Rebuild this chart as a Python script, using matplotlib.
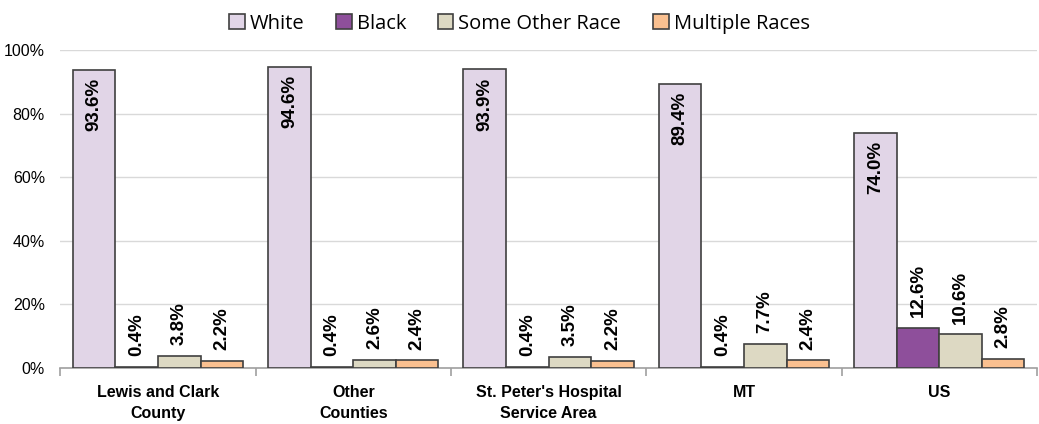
import numpy as np
import matplotlib
matplotlib.use("Agg")
import matplotlib.pyplot as plt
from matplotlib.ticker import PercentFormatter, FixedLocator

categories = ["Lewis and Clark\nCounty", "Other\nCounties", "St. Peter's Hospital\nService Area", "MT", "US"]
series = ["White", "Black", "Some Other Race", "Multiple Races"]
white = [93.6, 94.6, 93.9, 89.4, 74.0]
black = [0.4, 0.4, 0.4, 0.4, 12.6]
other = [3.8, 2.6, 3.5, 7.7, 10.6]
multiple = [2.2, 2.4, 2.2, 2.4, 2.8]
colors = ["#E1D5E7", "#8E4F9B", "#DDD9C3", "#FAC090"]

narrow = ["Liberation Sans Narrow", "DejaVu Sans Condensed", "Liberation Sans"]

fig = plt.figure(figsize=(10.39, 4.24), dpi=100)
ax = fig.add_axes([0.058, 0.132, 0.94, 0.75])

x = np.arange(len(categories))
w = 0.218
values = [white, black, other, multiple]
for i, (name, vals, c) in enumerate(zip(series, values, colors)):
    pos = x - 1.5 * w + i * w
    ax.bar(pos, vals, w, color=c, edgecolor="#404040", linewidth=1.2, label=name, zorder=3)
    for p, v in zip(pos, vals):
        txt = "%.1f%%" % v
        if i == 0:
            ax.text(p, v - 2.5, txt, rotation=90, ha="center", va="top", fontsize=13.5,
                    fontweight="bold", family=narrow, zorder=4)
        else:
            ax.text(p, v + 3.4, txt, rotation=90, ha="center", va="bottom", fontsize=13.5,
                    fontweight="bold", family=narrow, zorder=4)

ax.set_xlim(-0.5, len(categories) - 0.5)
ax.set_ylim(0, 100)
ax.set_yticks([0, 20, 40, 60, 80, 100])
ax.yaxis.set_major_formatter(PercentFormatter(decimals=0))
ax.grid(axis="y", color="#D9D9D9", linewidth=1, zorder=0)
for s in ["top", "right", "left"]:
    ax.spines[s].set_visible(False)
ax.spines["bottom"].set_color("#A0A0A0")
ax.spines["bottom"].set_linewidth(1.2)
ax.tick_params(axis="y", length=0, labelsize=11.5, pad=11)
for lbl in ax.get_yticklabels():
    lbl.set_family(narrow)

ax.set_xticks(x)
ax.set_xticklabels(categories, fontsize=11.5, fontweight="bold", family=narrow)
for lbl in ax.get_xticklabels():
    lbl.set_linespacing(1.55)
ax.tick_params(axis="x", which="major", length=0, pad=12)
ax.xaxis.set_minor_locator(FixedLocator(np.arange(len(categories) + 1) - 0.5))
ax.tick_params(axis="x", which="minor", length=6, color="#A0A0A0", width=1.2)

leg = fig.legend(loc="upper center", bbox_to_anchor=(0.5, 1.01), ncol=4, frameon=False,
                 prop={"family": "Open Sans", "size": 14.5}, handlelength=0.75, handleheight=0.75,
                 handletextpad=0.25, columnspacing=1.6)

fig.savefig("out.png", dpi=100)
